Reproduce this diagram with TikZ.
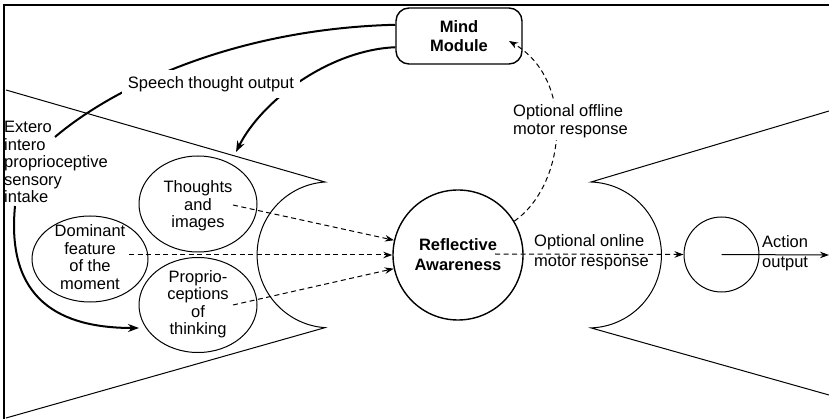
\documentclass[tikz,border=0pt]{standalone}
\usepackage{fontspec}
\setmainfont{Liberation Sans}
\usetikzlibrary{arrows.meta,shapes.geometric}
\tikzset{
  every node/.style={font=\fontsize{16.5}{17.5}\selectfont},
  thin line/.style={line width=1pt},
  frame line/.style={line width=1.4pt},
  thickcurve/.style={line width=2pt},
  dasharrow/.style={line width=1pt, dash pattern=on 5pt off 3.5pt, -{Stealth[length=9pt,width=6.5pt]}},
  mindbox/.style={draw, line width=1.4pt, rounded corners=13pt, minimum width=126pt, minimum height=56pt, align=center, font=\fontsize{16.5}{19.5}\selectfont\bfseries},
  ell/.style={draw, ellipse, thin line, inner sep=0pt},
  elltext/.style={align=center, inner sep=0pt},
  lbl/.style={align=left, inner sep=1pt},
}
\begin{document}
\begin{tikzpicture}[x=1pt,y=-1pt]
\useasboundingbox (0,0) rectangle (829,419);
% frame
\draw[frame line] (4,419) -- (4,5) -- (829,5);
% funnels
\draw[thin line] (6,90) -- (325,182) arc[start angle=94, end angle=266, radius=73pt] -- (6,418);
\draw[thin line] (829,111) -- (591,182) arc[start angle=88, end angle=-88, radius=73pt] -- (829,395);
% nodes
\node[mindbox] (mind) at (459,36) {Mind\\Module};
\node[draw, circle, line width=1.4pt, minimum size=130pt, align=center, inner sep=0pt, font=\fontsize{16.5}{20}\selectfont\bfseries] (ra) at (458,255) {Reflective\\Awareness};
\node[draw, circle, thin line, minimum size=75pt, inner sep=0pt] (out) at (721.5,254.5) {};
\node[ell, minimum width=118pt, minimum height=96pt] (th) at (198,204) {};
\node[elltext] (thtext) at (198,206) {Thoughts\\and\\images};
\node[ell, minimum width=116pt, minimum height=86pt] (dom) at (90,259) {};
\node[elltext] (domtext) at (90,257) {Dominant\\feature\\of the\\moment};
\node[ell, minimum width=118pt, minimum height=95pt] (pr) at (198,305) {};
\node[elltext] (prtext) at (198,304) {Proprio-\\ceptions\\of\\thinking};
% coordinates
\coordinate (c1end) at (55,137);
\coordinate (c3start) at (15,206);
\coordinate (c3end) at (139,328);
\coordinate (c2end) at (236,152);
\coordinate (thS) at (233,205);
\coordinate (domS) at (129,255);
\coordinate (prS) at (233,305);
\coordinate (raS) at (495,254);
\coordinate (offE) at (509,41);
\coordinate (actE) at (829,255);
% thick curves
\draw[thickcurve] (mind.170) .. controls (230,29) and (110,90) .. (c1end);
\draw[thickcurve, -{Stealth[length=11pt,width=8pt]}] (mind.190) .. controls (330,50) and (262,100) .. (c2end);
\draw[thickcurve, -{Stealth[length=11pt,width=8pt]}] (c3start) .. controls (6,300) and (60,328) .. (c3end);
\node[fill=white, inner sep=6pt] (speech) at (211,84) {Speech thought output};
% text labels
\node[lbl, anchor=west] (ext) at (3,162) {Extero\\intero\\proprioceptive\\sensory\\intake};
% dashed arrows
\draw[dasharrow] (thS) -- (ra.167);
\draw[dasharrow] (domS) -- (ra.180);
\draw[dasharrow] (prS) -- (ra.192);
\draw[dasharrow] (raS) -- (out.west);
\draw[dasharrow] (ra.31) .. controls (566,185) and (576,80) .. (offE);
\node[lbl, anchor=west, fill=white, inner sep=3pt] (offl) at (510,121) {Optional offline\\motor response};
\node[lbl, anchor=west, font=\fontsize{16.5}{20}\selectfont] (onl) at (533,252) {Optional online\\motor response};
\draw[thin line, -{Stealth[length=9pt,width=6.5pt]}] (out.center) -- (actE);
\node[lbl, anchor=west, font=\fontsize{16.5}{19.5}\selectfont] (act) at (761,253) {Action\\output};
\end{tikzpicture}
\end{document}
